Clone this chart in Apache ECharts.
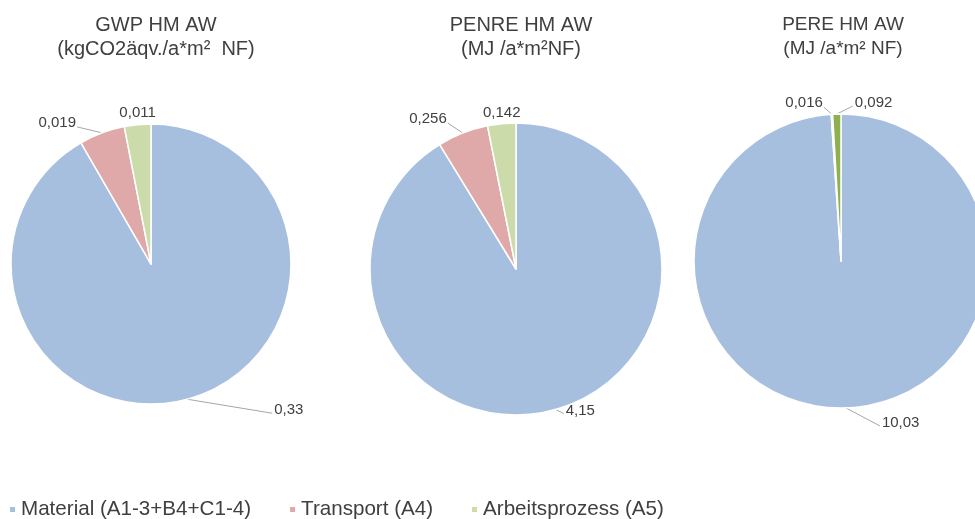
<!DOCTYPE html>
<html>
<head>
<meta charset="utf-8">
<script src="https://cdn.jsdelivr.net/npm/echarts@6/dist/echarts.min.js"></script>
<style>
  html, body { margin: 0; padding: 0; background: #fff; }
  #main { width: 975px; height: 519px; }
</style>
</head>
<body>
<div id="main"></div>
<script>
// Kategorien (Lebenszyklusphasen)
var categories = ['Material (A1-3+B4+C1-4)', 'Transport (A4)', 'Arbeitsprozess (A5)'];
// Diagrammtitel
var titles = [
    'GWP HM AW\n(kgCO2äqv./a*m²  NF)',
    'PENRE HM AW\n(MJ /a*m²NF)',
    'PERE HM AW\n(MJ /a*m² NF)'
];
// Werte je Indikator
var gwpValues = [0.33, 0.019, 0.011];
var penreValues = [4.15, 0.256, 0.142];
var pereValues = [10.03, 0.016, 0.092];

var colors = ['#a7bfdf', '#dea9a8', '#cbdcaa'];
var font = 'Liberation Sans, Arial, sans-serif';

// Layout der drei Kreise
var centers = [[151, 264], [516, 269], [841, 261]];
var radii = [140, 146, 147];
var titleX = [151, 516, 838];
var titleSize = [20, 20, 19];

// Versatz der Beschriftung vom Kreisrand [dx, dy] (0 = mittig darüber, ohne Linie)
var labelOffsets = [
    [[87, 11], [-26, -10], [0, -12]],
    [[10, 1], [-16, -14], [0, -11]],
    [[36, 15], [-9, -11], [18, -11]]
];

function fmt(v) {
    return String(v).replace('.', ',');
}

function makeData(values, idx) {
    return values.map(function (v, i) {
        var c = colors[i];
        if (idx === 2 && i === 2) c = '#8fb04f';
        return { name: categories[i], value: v, itemStyle: { color: c } };
    });
}

var allValues = [gwpValues, penreValues, pereValues];

var option = {
    animation: false,
    textStyle: { fontFamily: font },
    title: titles.map(function (t, i) {
        return {
            text: t,
            left: titleX[i],
            top: 8,
            textAlign: 'center',
            textStyle: {
                fontFamily: font,
                fontWeight: 'normal',
                fontSize: titleSize[i],
                lineHeight: 24,
                color: '#404040'
            }
        };
    }),
    legend: {
        data: categories,
        left: 3,
        top: 494,
        icon: 'rect',
        itemWidth: 7,
        itemHeight: 7,
        itemGap: 37,
        textStyle: { fontFamily: font, fontSize: 20.6, color: '#404040' }
    },
    series: allValues.map(function (vals, idx) {
        return {
            type: 'pie',
            center: centers[idx],
            radius: radii[idx],
            startAngle: 90,
            clockwise: true,
            avoidLabelOverlap: false,
            itemStyle: { borderColor: '#fff', borderWidth: 1.5 },
            label: {
                show: true,
                position: 'outside',
                fontFamily: font,
                fontSize: 15,
                color: '#404040',
                formatter: function (p) { return fmt(p.value); }
            },
            labelLine: {
                show: true,
                length: 5,
                length2: 5,
                lineStyle: { color: '#a6a6a6', width: 1 }
            },
            labelLayout: function (p) {
                var edge = p.labelLinePoints[0];
                var off = labelOffsets[p.seriesIndex][p.dataIndex];
                var x = edge[0] + off[0];
                var y = edge[1] + off[1];
                var align = off[0] > 0 ? 'left' : (off[0] < 0 ? 'right' : 'center');
                var end = off[0] > 0 ? [x - 2, y + 3] : (off[0] < 0 ? [x + 1, y + 4] : edge);
                return {
                    x: x,
                    y: y,
                    align: align,
                    verticalAlign: 'middle',
                    labelLinePoints: [edge, end]
                };
            },
            data: makeData(vals, idx)
        };
    })
};

var chart = echarts.init(document.getElementById('main'));
chart.setOption(option);
</script>
</body>
</html>
